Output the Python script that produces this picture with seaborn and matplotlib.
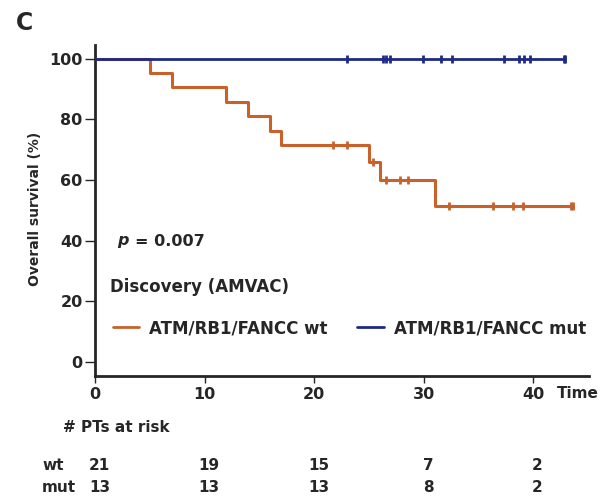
import numpy as np
import pandas as pd
import matplotlib
matplotlib.use("Agg")
import matplotlib.pyplot as plt
import matplotlib.transforms as mtransforms
from matplotlib.lines import Line2D
import seaborn as sns

# ─── Data ─────────────────────────────────────────────────────────────────────

# wt arm: time of each step and survival level after it
wt_times = [0, 5, 7, 12, 14, 16, 17, 25, 26, 31, 43.6]
wt_surv = [100, 95.2, 90.5, 85.7, 81.0, 76.2, 71.4, 65.9, 59.9, 51.3, 51.3]
wt_censor = [21.7, 23.0, 25.4, 26.6, 27.8, 28.6, 32.3, 36.3, 38.2, 39.1, 43.5, 43.6]

# mut arm: no events
mut_times = [0, 42.9]
mut_surv = [100, 100]
mut_censor = [23.0, 26.3, 26.6, 26.9, 29.9, 31.6, 32.6, 37.3, 38.7, 39.2, 39.7, 42.8, 42.9]

risk_times = [0, 10, 20, 30, 40]
wt_risk = [21, 19, 15, 7, 2]
mut_risk = [13, 13, 13, 8, 2]

ORANGE = "#c8612a"
BLUE = "#1f2a88"
W, H = 601, 500
FS = 11


def level_at(times, surv, t):
    """Survival level of a step curve at time t."""
    idx = np.searchsorted(times, t, side="right") - 1
    return surv[idx]


def fx(px):
    return px / W


def fy(py):
    return 1 - py / H


# ─── Figure ───────────────────────────────────────────────────────────────────

sns.set_style("ticks")
plt.rcParams["font.family"] = ["DejaVu Sans"]
plt.rcParams["font.weight"] = "bold"

fig = plt.figure(figsize=(W / 100, H / 100), dpi=100)
ax = fig.add_axes([fx(95), fy(376), (589 - 95) / W, (376 - 45) / H])

df_wt = pd.DataFrame({"time": wt_times, "surv": wt_surv})
df_mut = pd.DataFrame({"time": mut_times, "surv": mut_surv})
cens_wt = pd.DataFrame({"time": wt_censor,
                        "surv": [level_at(wt_times, wt_surv, t) for t in wt_censor]})
cens_mut = pd.DataFrame({"time": mut_censor,
                         "surv": [level_at(mut_times, mut_surv, t) for t in mut_censor]})

sns.lineplot(data=df_wt, x="time", y="surv", drawstyle="steps-post",
             estimator=None, color=ORANGE, lw=2.2, ax=ax, zorder=2)
sns.scatterplot(data=cens_wt, x="time", y="surv", marker="|", s=38,
                linewidth=2, color=ORANGE, ax=ax, zorder=3)
sns.lineplot(data=df_mut, x="time", y="surv", drawstyle="steps-post",
             estimator=None, color=BLUE, lw=2.0, ax=ax, zorder=4)
sns.scatterplot(data=cens_mut, x="time", y="surv", marker="|", s=38,
                linewidth=2, color=BLUE, ax=ax, zorder=5)

ax.set_xlim(0, 45.1)
ax.set_ylim(-4.7, 104.5)
ax.set_xticks(risk_times)
ax.set_yticks([0, 20, 40, 60, 80, 100])
ax.set_xlabel("")
ax.set_ylabel("")
sns.despine(ax=ax)
for side in ("left", "bottom"):
    ax.spines[side].set_linewidth(2)
ax.tick_params(axis="y", length=7, width=1, labelsize=FS + 0.5, pad=2)
ax.tick_params(axis="x", length=5, width=1, labelsize=FS + 0.5, pad=3)
for lab in ax.get_xticklabels() + ax.get_yticklabels():
    lab.set_fontweight("bold")

# legend
handles = [Line2D([], [], color=ORANGE, lw=2), Line2D([], [], color=BLUE, lw=2)]
ax.legend(handles, ["ATM/RB1/FANCC wt", "ATM/RB1/FANCC mut"], ncol=2,
          frameon=False, loc="center left", bbox_to_anchor=(0.036, 0.145),
          borderpad=0, borderaxespad=0, handlelength=1.6, handletextpad=0.6,
          columnspacing=1.75, prop={"weight": "bold", "size": FS + 1})

# annotations
fig.text(fx(117), fy(241), "p", fontsize=FS + 0.5, style="italic", fontweight="bold",
         va="center", ha="left")
fig.text(fx(135), fy(241), "= 0.007", fontsize=FS + 0.5, fontweight="bold",
         va="center", ha="left")
fig.text(fx(110), fy(287), "Discovery (AMVAC)", fontsize=FS + 1, fontweight="bold",
         va="center", ha="left")
fig.text(fx(16), fy(23), "C", fontsize=17, fontweight="bold", va="center", ha="left")
fig.text(fx(35), fy(209), "Overall survival (%)", fontsize=FS - 1, fontweight="bold",
         rotation=90, va="center", ha="center")
fig.text(fx(557), fy(394), "Time", fontsize=FS, fontweight="bold",
         va="center", ha="left")

# at-risk table
fig.text(fx(63), fy(428), "# PTs at risk", fontsize=FS, fontweight="bold",
         va="center", ha="left")
fig.text(fx(42), fy(465), "wt", fontsize=FS, fontweight="bold", va="center", ha="left")
fig.text(fx(42), fy(488), "mut", fontsize=FS, fontweight="bold", va="center", ha="left")
trans = mtransforms.blended_transform_factory(ax.transData, fig.transFigure)
for t, a, b in zip(risk_times, wt_risk, mut_risk):
    ax.text(t + 0.4, fy(465), str(a), transform=trans, fontsize=FS,
            fontweight="bold", ha="center", va="center")
    ax.text(t + 0.4, fy(488), str(b), transform=trans, fontsize=FS,
            fontweight="bold", ha="center", va="center")

fig.savefig("out.png", dpi=100)
